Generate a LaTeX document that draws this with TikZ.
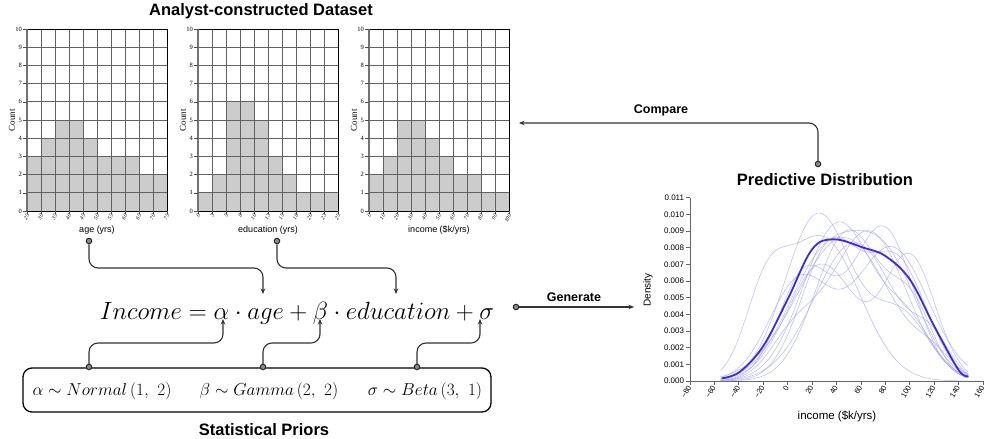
\documentclass[tikz,border=0pt]{standalone}
\usepackage{fontspec}
\usepackage{amsmath}
\newfontfamily\sansf{Liberation Sans}
\newfontfamily\serf{Liberation Serif}
\usetikzlibrary{arrows.meta,calc}
\definecolor{mainblue}{RGB}{60,40,230}
\definecolor{thinblue}{RGB}{160,160,248}
\definecolor{barc}{RGB}{204,204,204}
\tikzset{
  conn/.style={draw=black!80, line width=1.1pt, rounded corners=9pt, -{Stealth[length=5.5pt,width=4.5pt]}},
  dotc/.style={circle, draw=black!85, fill=black!45, line width=1pt, minimum size=5.5pt, inner sep=0pt},
  title/.style={font=\sansf\bfseries\fontsize{16.5}{18}\selectfont},
  lbl/.style={font=\sansf\bfseries\fontsize{12.5}{14}\selectfont},
  ytl/.style={anchor=east, inner sep=1pt, font=\serf\fontsize{6.5}{7}\selectfont},
  xtl/.style={anchor=east, rotate=60, inner sep=0pt, font=\serf\itshape\fontsize{5.5}{6}\selectfont},
  cnt/.style={rotate=90, font=\serf\fontsize{9}{10}\selectfont},
  axl/.style={font=\sansf\fontsize{9}{10}\selectfont},
  gridl/.style={draw=black!62, line width=0.8pt},
  thincurve/.style={draw=thinblue, line width=0.5pt, opacity=0.75},
  pyl/.style={anchor=east, inner sep=1.5pt, font=\sansf\fontsize{8}{9}\selectfont},
  pxl/.style={anchor=east, rotate=60, inner sep=1pt, font=\sansf\fontsize{7.5}{8}\selectfont},
}
\newcommand\histo[5]{%
\begin{scope}[shift={(#1,0)}]
 \foreach \h [count=\i from 0] in {#2} \fill[barc] (\i*14,211) rectangle ({(\i+1)*14},{211-\h*18.2});
 \foreach \k in {1,...,9} {\draw[gridl] (\k*14,29) -- (\k*14,211); \draw[gridl] (0,{211-\k*18.2}) -- (140,{211-\k*18.2});}
 \draw[black, line width=0.9pt] (0,29) rectangle (140,211);
 \draw[black!55, line width=1.6pt] (0,29) -- (0,211);
 \foreach \k in {0,...,10} {\draw[black!70, line width=0.6pt] (-4,{211-\k*18.2}) -- (0,{211-\k*18.2}); \node[ytl] (#5y\k) at (-4,{211-\k*18.2}) {\k};}
 \foreach \l [count=\i from 0] in {#3} {\draw[black!70, line width=0.6pt] (\i*14,211) -- (\i*14,214); \node[xtl] (#5x\i) at (\i*14+1,214.5) {\l};}
 \node[cnt] (#5c) at (-15,120) {Count};
 \node[axl] (#5l) at (70,230) {#4};
\end{scope}}
\newcommand\gmcurve[6]{\draw[thincurve] plot[domain=-55:148, samples=80, smooth] (\x, {#1*exp(-((\x-#2)/#3)*((\x-#2)/#3)/2)+#4*exp(-((\x-#5)/#6)*((\x-#5)/#6)/2)});}
\begin{document}
\begin{tikzpicture}[x=1pt,y=-1pt]
\useasboundingbox (0,0) rectangle (996,439);
\fill[white] (0,0) rectangle (996,439);

% histograms
\node[title] (dstitle) at (261,11) {Analyst-constructed Dataset};
\histo{27}{3,4,5,5,4,3,3,3,2,2}{25,30,35,40,45,50,55,60,65,70,75}{age (yrs)}{ha}
\histo{198}{1,2,6,6,5,3,2,1,1,1}{0,3,5,8,10,13,15,18,20,23,25}{education (yrs)}{hb}
\histo{369}{2,3,5,5,4,3,2,2,1,1}{0,10,20,30,40,50,60,70,80,90,100}{income (\$k/yrs)}{hc}

% equation
\node[font=\fontsize{23.5}{28}\selectfont, inner sep=0pt] (eq) at (297,313) {$Income = \alpha \cdot age + \beta \cdot education + \sigma$};
\coordinate (eqage) at (263,294);
\coordinate (eqedu) at (396,294);
\coordinate (eqalpha) at (223,319);
\coordinate (eqbeta) at (320,319);
\coordinate (eqsigma) at (480,319);

% priors
\node[draw=black, line width=1.3pt, rounded corners=9pt, minimum width=468pt, minimum height=44pt] (box) at (257,390) {};
\node[font=\fontsize{19}{22}\selectfont] (pa) at (102,391) {$\alpha \sim Normal\left(1,\ 2\right)$};
\node[font=\fontsize{19}{22}\selectfont] (pb) at (269,391) {$\beta \sim Gamma\left(2,\ 2\right)$};
\node[font=\fontsize{19}{22}\selectfont] (ps) at (425,391) {$\sigma \sim Beta\left(3,\ 1\right)$};
\node[title] (prtitle) at (264,430) {Statistical Priors};

% dots
\node[dotc] (agedot) at (89,241) {};
\node[dotc] (edudot) at (277,241) {};
\node[dotc] (adot) at (89,367) {};
\node[dotc] (bdot) at (263,367) {};
\node[dotc] (sdot) at (417,367) {};
\node[dotc] (gdot) at (516,307) {};
\node[dotc] (cdot) at (818,164) {};
\coordinate (lvlA) at (0,268);
\coordinate (lvlB) at (0,343);
\coordinate (gend) at (634,307);
\coordinate (cend) at (519,123);
\coordinate (clvl) at (0,123);

\draw[conn] (agedot) -- (agedot |- lvlA) -| (eqage);
\draw[conn] (edudot) -- (edudot |- lvlA) -| (eqedu);
\draw[conn] (adot) -- (adot |- lvlB) -| (eqalpha);
\draw[conn] (bdot) -- (bdot |- lvlB) -| (eqbeta);
\draw[conn] (sdot) -- (sdot |- lvlB) -| (eqsigma);
\draw[conn] (gdot) -- (gend);
\draw[conn] (cdot) -- (cdot |- clvl) -- (cend);
\node[lbl] (genl) at (574,297) {Generate};
\node[lbl] (cmpl) at (661,110) {Compare};

% predictive distribution
\node[title] (pdtitle) at (825,180) {Predictive Distribution};
\node[rotate=90, font=\sansf\fontsize{10}{11}\selectfont] (dens) at (648,290) {Density};
\node[font=\sansf\fontsize{11.5}{13}\selectfont] (inc) at (837,416) {income (\$k/yrs)};
\begin{scope}[shift={(787.66,381)}, x=1.2208pt, y=16.667pt]
  \draw[black!60, line width=1pt] (-80,0) -- (-80,11);
  \draw[black!60, line width=1pt] (-80,0) -- (160,0);
  \foreach \k [count=\j from 0] in {0.000,0.001,0.002,0.003,0.004,0.005,0.006,0.007,0.008,0.009,0.010,0.011} {
    \draw[black!60, line width=0.8pt] (-83.5,\j) -- (-80,\j);
    \node[pyl] (py\j) at (-83.5,\j) {\k};
  }
  \foreach \v [count=\j from 0] in {−80,−60,−40,−20,0,20,40,60,80,100,120,140,160} {
    \draw[black!60, line width=0.8pt] ({-80+20*\j},0) -- ({-80+20*\j},-0.22);
    \node[pxl] (px\j) at ({-80+20*\j},-0.25) {\v};
  }
  \gmcurve{10.0}{25}{27}{4.0}{92}{24}
  \gmcurve{9.5}{42}{29}{3.0}{100}{20}
  \gmcurve{4.2}{-18}{17}{8.6}{28}{31}
  \gmcurve{6.5}{15}{22}{9.2}{78}{25}
  \gmcurve{8.3}{55}{33}{2.0}{118}{15}
  \gmcurve{9.0}{66}{31}{2.5}{5}{20}
  \gmcurve{7.0}{28}{28}{7.4}{100}{21}
  \gmcurve{6.0}{10}{25}{8.0}{85}{30}
  \gmcurve{9.0}{50}{27}{4.0}{102}{18}
  \gmcurve{8.0}{35}{24}{7.0}{90}{24}
  \gmcurve{8.6}{46}{38}{1.0}{120}{15}
  \gmcurve{7.2}{30}{30}{6.5}{82}{27}
  \draw[mainblue, line width=1.8pt] plot[smooth, tension=0.6] coordinates {(-54,0.16) (-39,0.56) (-20,2.1) (0,4.9) (20,7.9) (38,8.5) (62,8.0) (80,7.5) (100,6.1) (120,3.3) (140,0.66) (148,0.3)};
\end{scope}
\end{tikzpicture}
\end{document}
